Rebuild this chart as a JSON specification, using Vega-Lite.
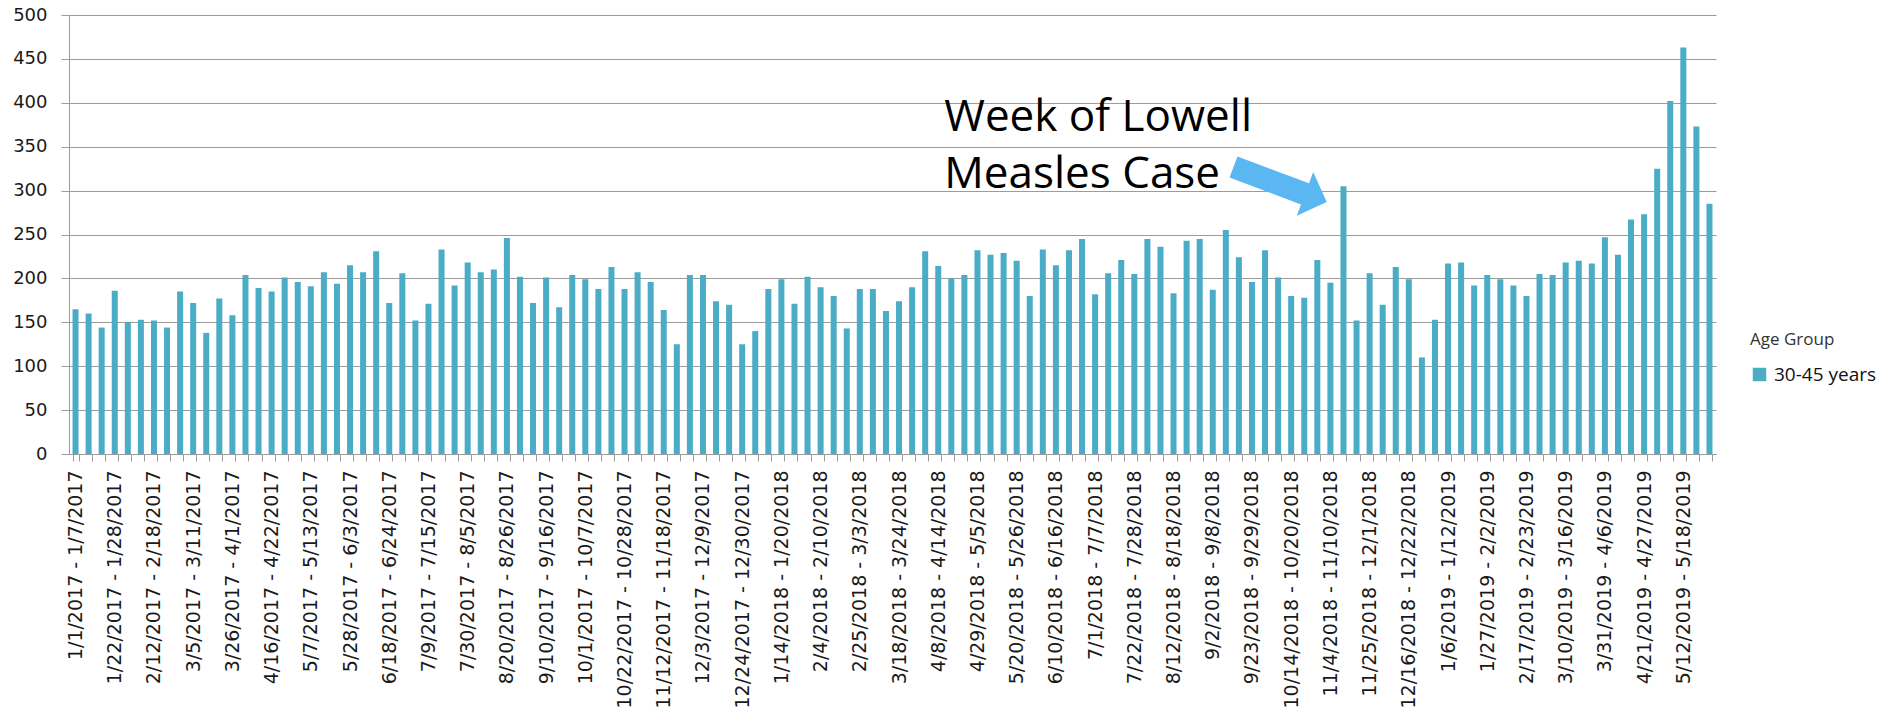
{
  "$schema": "https://vega.github.io/schema/vega-lite/v6.json",
  "width": 1647,
  "height": 439,
  "autosize": "none",
  "padding": {"left": 69, "top": 15, "right": 175, "bottom": 259},
  "background": "white",
  "config": {"view": {"stroke": null}, "font": "DejaVu Sans"},
  "data": {"values": [
    {"week": "1/1/2017 - 1/7/2017", "count": 165},
    {"week": "1/8/2017 - 1/14/2017", "count": 160},
    {"week": "1/15/2017 - 1/21/2017", "count": 144},
    {"week": "1/22/2017 - 1/28/2017", "count": 186},
    {"week": "1/29/2017 - 2/4/2017", "count": 150},
    {"week": "2/5/2017 - 2/11/2017", "count": 153},
    {"week": "2/12/2017 - 2/18/2017", "count": 152},
    {"week": "2/19/2017 - 2/25/2017", "count": 144},
    {"week": "2/26/2017 - 3/4/2017", "count": 185},
    {"week": "3/5/2017 - 3/11/2017", "count": 172},
    {"week": "3/12/2017 - 3/18/2017", "count": 138},
    {"week": "3/19/2017 - 3/25/2017", "count": 177},
    {"week": "3/26/2017 - 4/1/2017", "count": 158},
    {"week": "4/2/2017 - 4/8/2017", "count": 204},
    {"week": "4/9/2017 - 4/15/2017", "count": 189},
    {"week": "4/16/2017 - 4/22/2017", "count": 185},
    {"week": "4/23/2017 - 4/29/2017", "count": 201},
    {"week": "4/30/2017 - 5/6/2017", "count": 196},
    {"week": "5/7/2017 - 5/13/2017", "count": 191},
    {"week": "5/14/2017 - 5/20/2017", "count": 207},
    {"week": "5/21/2017 - 5/27/2017", "count": 194},
    {"week": "5/28/2017 - 6/3/2017", "count": 215},
    {"week": "6/4/2017 - 6/10/2017", "count": 207},
    {"week": "6/11/2017 - 6/17/2017", "count": 231},
    {"week": "6/18/2017 - 6/24/2017", "count": 172},
    {"week": "6/25/2017 - 7/1/2017", "count": 206},
    {"week": "7/2/2017 - 7/8/2017", "count": 152},
    {"week": "7/9/2017 - 7/15/2017", "count": 171},
    {"week": "7/16/2017 - 7/22/2017", "count": 233},
    {"week": "7/23/2017 - 7/29/2017", "count": 192},
    {"week": "7/30/2017 - 8/5/2017", "count": 218},
    {"week": "8/6/2017 - 8/12/2017", "count": 207},
    {"week": "8/13/2017 - 8/19/2017", "count": 210},
    {"week": "8/20/2017 - 8/26/2017", "count": 246},
    {"week": "8/27/2017 - 9/2/2017", "count": 202},
    {"week": "9/3/2017 - 9/9/2017", "count": 172},
    {"week": "9/10/2017 - 9/16/2017", "count": 201},
    {"week": "9/17/2017 - 9/23/2017", "count": 167},
    {"week": "9/24/2017 - 9/30/2017", "count": 204},
    {"week": "10/1/2017 - 10/7/2017", "count": 199},
    {"week": "10/8/2017 - 10/14/2017", "count": 188},
    {"week": "10/15/2017 - 10/21/2017", "count": 213},
    {"week": "10/22/2017 - 10/28/2017", "count": 188},
    {"week": "10/29/2017 - 11/4/2017", "count": 207},
    {"week": "11/5/2017 - 11/11/2017", "count": 196},
    {"week": "11/12/2017 - 11/18/2017", "count": 164},
    {"week": "11/19/2017 - 11/25/2017", "count": 125},
    {"week": "11/26/2017 - 12/2/2017", "count": 204},
    {"week": "12/3/2017 - 12/9/2017", "count": 204},
    {"week": "12/10/2017 - 12/16/2017", "count": 174},
    {"week": "12/17/2017 - 12/23/2017", "count": 170},
    {"week": "12/24/2017 - 12/30/2017", "count": 125},
    {"week": "12/31/2017 - 1/6/2018", "count": 140},
    {"week": "1/7/2018 - 1/13/2018", "count": 188},
    {"week": "1/14/2018 - 1/20/2018", "count": 199},
    {"week": "1/21/2018 - 1/27/2018", "count": 171},
    {"week": "1/28/2018 - 2/3/2018", "count": 202},
    {"week": "2/4/2018 - 2/10/2018", "count": 190},
    {"week": "2/11/2018 - 2/17/2018", "count": 180},
    {"week": "2/18/2018 - 2/24/2018", "count": 143},
    {"week": "2/25/2018 - 3/3/2018", "count": 188},
    {"week": "3/4/2018 - 3/10/2018", "count": 188},
    {"week": "3/11/2018 - 3/17/2018", "count": 163},
    {"week": "3/18/2018 - 3/24/2018", "count": 174},
    {"week": "3/25/2018 - 3/31/2018", "count": 190},
    {"week": "4/1/2018 - 4/7/2018", "count": 231},
    {"week": "4/8/2018 - 4/14/2018", "count": 214},
    {"week": "4/15/2018 - 4/21/2018", "count": 200},
    {"week": "4/22/2018 - 4/28/2018", "count": 204},
    {"week": "4/29/2018 - 5/5/2018", "count": 232},
    {"week": "5/6/2018 - 5/12/2018", "count": 227},
    {"week": "5/13/2018 - 5/19/2018", "count": 229},
    {"week": "5/20/2018 - 5/26/2018", "count": 220},
    {"week": "5/27/2018 - 6/2/2018", "count": 180},
    {"week": "6/3/2018 - 6/9/2018", "count": 233},
    {"week": "6/10/2018 - 6/16/2018", "count": 215},
    {"week": "6/17/2018 - 6/23/2018", "count": 232},
    {"week": "6/24/2018 - 6/30/2018", "count": 245},
    {"week": "7/1/2018 - 7/7/2018", "count": 182},
    {"week": "7/8/2018 - 7/14/2018", "count": 206},
    {"week": "7/15/2018 - 7/21/2018", "count": 221},
    {"week": "7/22/2018 - 7/28/2018", "count": 205},
    {"week": "7/29/2018 - 8/4/2018", "count": 245},
    {"week": "8/5/2018 - 8/11/2018", "count": 236},
    {"week": "8/12/2018 - 8/18/2018", "count": 183},
    {"week": "8/19/2018 - 8/25/2018", "count": 243},
    {"week": "8/26/2018 - 9/1/2018", "count": 245},
    {"week": "9/2/2018 - 9/8/2018", "count": 187},
    {"week": "9/9/2018 - 9/15/2018", "count": 255},
    {"week": "9/16/2018 - 9/22/2018", "count": 224},
    {"week": "9/23/2018 - 9/29/2018", "count": 196},
    {"week": "9/30/2018 - 10/6/2018", "count": 232},
    {"week": "10/7/2018 - 10/13/2018", "count": 201},
    {"week": "10/14/2018 - 10/20/2018", "count": 180},
    {"week": "10/21/2018 - 10/27/2018", "count": 178},
    {"week": "10/28/2018 - 11/3/2018", "count": 221},
    {"week": "11/4/2018 - 11/10/2018", "count": 195},
    {"week": "11/11/2018 - 11/17/2018", "count": 305},
    {"week": "11/18/2018 - 11/24/2018", "count": 152},
    {"week": "11/25/2018 - 12/1/2018", "count": 206},
    {"week": "12/2/2018 - 12/8/2018", "count": 170},
    {"week": "12/9/2018 - 12/15/2018", "count": 213},
    {"week": "12/16/2018 - 12/22/2018", "count": 199},
    {"week": "12/23/2018 - 12/29/2018", "count": 110},
    {"week": "12/30/2018 - 1/5/2019", "count": 153},
    {"week": "1/6/2019 - 1/12/2019", "count": 217},
    {"week": "1/13/2019 - 1/19/2019", "count": 218},
    {"week": "1/20/2019 - 1/26/2019", "count": 192},
    {"week": "1/27/2019 - 2/2/2019", "count": 204},
    {"week": "2/3/2019 - 2/9/2019", "count": 199},
    {"week": "2/10/2019 - 2/16/2019", "count": 192},
    {"week": "2/17/2019 - 2/23/2019", "count": 180},
    {"week": "2/24/2019 - 3/2/2019", "count": 205},
    {"week": "3/3/2019 - 3/9/2019", "count": 204},
    {"week": "3/10/2019 - 3/16/2019", "count": 218},
    {"week": "3/17/2019 - 3/23/2019", "count": 220},
    {"week": "3/24/2019 - 3/30/2019", "count": 217},
    {"week": "3/31/2019 - 4/6/2019", "count": 247},
    {"week": "4/7/2019 - 4/13/2019", "count": 227},
    {"week": "4/14/2019 - 4/20/2019", "count": 267},
    {"week": "4/21/2019 - 4/27/2019", "count": 273},
    {"week": "4/28/2019 - 5/4/2019", "count": 325},
    {"week": "5/5/2019 - 5/11/2019", "count": 402},
    {"week": "5/12/2019 - 5/18/2019", "count": 463},
    {"week": "5/19/2019 - 5/25/2019", "count": 373},
    {"week": "5/26/2019 - 6/1/2019", "count": 285}
  ]},
  "layer": [
    {
      "mark": {"type": "bar"},
      "encoding": {
        "x": {
          "field": "week", "type": "ordinal", "sort": null,
          "scale": {"paddingInner": 0.54, "paddingOuter": 0.27},
          "axis": {
            "title": null,
            "labelAngle": -90, "labelAlign": "right", "labelBaseline": "middle",
            "labelFont": "DejaVu Sans", "labelFontSize": 19, "labelColor": "#1a1a1a",
            "labelPadding": 9, "labelOverlap": false, "labelBound": false, "labelLimit": 0,
            "labelExpr": "round((toDate(split(datum.value, ' - ')[0]) - toDate('1/1/2017')) / 604800000) % 3 == 0 ? datum.value : ''",
            "tickSize": 7, "tickBand": "extent", "tickColor": "#9c9c9c",
            "domainColor": "#9c9c9c", "grid": false
          }
        },
        "y": {
          "field": "count", "type": "quantitative",
          "scale": {"domain": [0, 500], "nice": false},
          "axis": {
            "title": null,
            "values": [0, 50, 100, 150, 200, 250, 300, 350, 400, 450, 500],
            "labelFont": "DejaVu Sans", "labelFontSize": 18, "labelColor": "#1a1a1a",
            "labelPadding": 14, "tickSize": 8, "tickColor": "#9c9c9c",
            "domainColor": "#9c9c9c", "grid": true, "gridColor": "#9c9c9c", "gridOpacity": 1
          }
        },
        "color": {
          "datum": "30-45 years", "type": "nominal",
          "scale": {"range": ["#4BACC6"]},
          "legend": {
            "title": "Age Group", "orient": "none", "legendX": 1681, "legendY": 317,
            "padding": 0,
            "titleFont": "Open Sans", "titleFontSize": 17, "titleFontWeight": "normal", "titleColor": "#333333",
            "titlePadding": 16,
            "labelFont": "Open Sans", "labelFontSize": 19, "labelColor": "#111111", "labelOffset": 5,
            "symbolType": "square", "symbolSize": 182, "symbolStrokeWidth": 0
          }
        }
      }
    },
    {
      "transform": [{"filter": "datum.week == '4/8/2018 - 4/14/2018'"}],
      "mark": {
        "type": "text", "text": ["Week of Lowell", "Measles Case"],
        "font": "Open Sans", "fontSize": 44, "align": "left", "baseline": "alphabetic",
        "dx": 6, "lineHeight": 56.6, "color": "#000000"
      },
      "encoding": {
        "x": {"field": "week", "type": "ordinal", "sort": null},
        "y": {"datum": 367.4, "type": "quantitative"}
      }
    },
    {
      "transform": [{"filter": "datum.week == '10/7/2018 - 10/13/2018'"}],
      "mark": {
        "type": "point",
        "shape": "M-1,-0.227L0.534,-0.227L0.534,-0.47L1,0L0.534,0.47L0.534,0.227L-1,0.227Z",
        "size": 9920, "angle": 20.6, "filled": true, "color": "#5BB7F2",
        "opacity": 1, "strokeWidth": 0, "xOffset": 2
      },
      "encoding": {
        "x": {"field": "week", "type": "ordinal", "sort": null},
        "y": {"datum": 306.9, "type": "quantitative"}
      }
    }
  ]
}
